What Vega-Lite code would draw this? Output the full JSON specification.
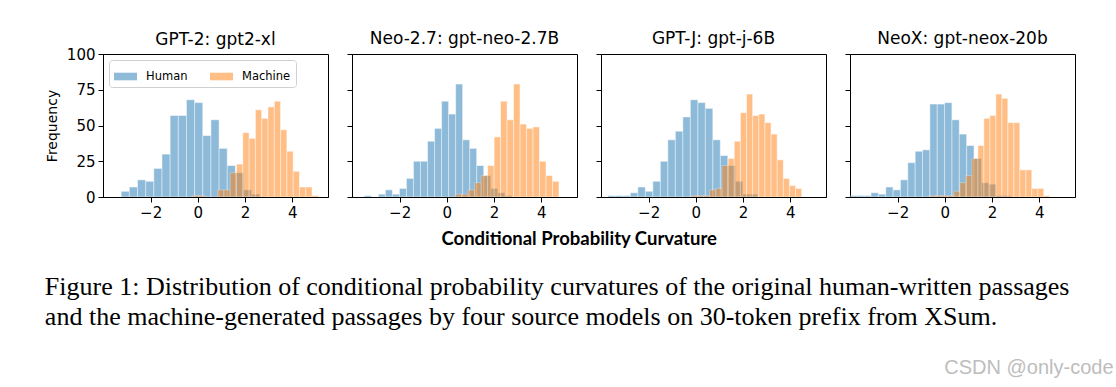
{
  "$schema": "https://vega.github.io/schema/vega-lite/v6.json",
  "background": "white",
  "padding": {"left": 44, "top": 29, "right": 3, "bottom": 3},
  "config": {
    "font": "DejaVu Sans",
    "view": {"stroke": "#000", "strokeWidth": 1},
    "axis": {"grid": false, "domainColor": "#000", "tickColor": "#000", "labelColor": "#000", "labelFont": "DejaVu Sans", "labelFontSize": 15, "tickSize": 5, "labelPadding": 3, "titleFont": "DejaVu Sans", "titleFontSize": 14, "titleFontWeight": "normal", "titleColor": "#000", "titlePadding": 7},
    "title": {"font": "DejaVu Sans", "fontSize": 17, "fontWeight": "normal", "color": "#000", "offset": 6}
  },
  "data": {"values": [
    {"p":1,"s":"Human","a":-3.25,"b":-2.904,"n":4},
    {"p":1,"s":"Human","a":-2.904,"b":-2.558,"n":7},
    {"p":1,"s":"Human","a":-2.558,"b":-2.212,"n":12},
    {"p":1,"s":"Human","a":-2.212,"b":-1.866,"n":11},
    {"p":1,"s":"Human","a":-1.866,"b":-1.52,"n":20},
    {"p":1,"s":"Human","a":-1.52,"b":-1.174,"n":30},
    {"p":1,"s":"Human","a":-1.174,"b":-0.828,"n":57},
    {"p":1,"s":"Human","a":-0.828,"b":-0.482,"n":57},
    {"p":1,"s":"Human","a":-0.482,"b":-0.136,"n":68},
    {"p":1,"s":"Human","a":-0.136,"b":0.21,"n":66},
    {"p":1,"s":"Human","a":0.21,"b":0.556,"n":43},
    {"p":1,"s":"Human","a":0.556,"b":0.902,"n":54},
    {"p":1,"s":"Human","a":0.902,"b":1.248,"n":34},
    {"p":1,"s":"Human","a":1.248,"b":1.594,"n":22},
    {"p":1,"s":"Human","a":1.594,"b":1.94,"n":17},
    {"p":1,"s":"Human","a":1.94,"b":2.286,"n":5},
    {"p":1,"s":"Human","a":2.286,"b":2.632,"n":2},
    {"p":1,"s":"Machine","a":-0.229,"b":0.038,"n":1},
    {"p":1,"s":"Machine","a":0.038,"b":0.305,"n":1},
    {"p":1,"s":"Machine","a":0.839,"b":1.106,"n":5},
    {"p":1,"s":"Machine","a":1.106,"b":1.373,"n":5},
    {"p":1,"s":"Machine","a":1.373,"b":1.64,"n":17},
    {"p":1,"s":"Machine","a":1.64,"b":1.907,"n":23},
    {"p":1,"s":"Machine","a":1.907,"b":2.174,"n":45},
    {"p":1,"s":"Machine","a":2.174,"b":2.441,"n":41},
    {"p":1,"s":"Machine","a":2.441,"b":2.708,"n":61},
    {"p":1,"s":"Machine","a":2.708,"b":2.975,"n":55},
    {"p":1,"s":"Machine","a":2.975,"b":3.242,"n":63},
    {"p":1,"s":"Machine","a":3.242,"b":3.509,"n":67},
    {"p":1,"s":"Machine","a":3.509,"b":3.776,"n":47},
    {"p":1,"s":"Machine","a":3.776,"b":4.043,"n":32},
    {"p":1,"s":"Machine","a":4.043,"b":4.31,"n":18},
    {"p":1,"s":"Machine","a":4.31,"b":4.577,"n":7},
    {"p":1,"s":"Machine","a":4.577,"b":4.844,"n":7},
    {"p":1,"s":"Machine","a":4.844,"b":5.111,"n":1},
    {"p":2,"s":"Human","a":-3.5,"b":-3.202,"n":1},
    {"p":2,"s":"Human","a":-2.904,"b":-2.606,"n":2},
    {"p":2,"s":"Human","a":-2.606,"b":-2.308,"n":5},
    {"p":2,"s":"Human","a":-2.308,"b":-2.01,"n":2},
    {"p":2,"s":"Human","a":-2.01,"b":-1.712,"n":6},
    {"p":2,"s":"Human","a":-1.712,"b":-1.414,"n":13},
    {"p":2,"s":"Human","a":-1.414,"b":-1.116,"n":25},
    {"p":2,"s":"Human","a":-1.116,"b":-0.818,"n":25},
    {"p":2,"s":"Human","a":-0.818,"b":-0.52,"n":39},
    {"p":2,"s":"Human","a":-0.52,"b":-0.222,"n":48},
    {"p":2,"s":"Human","a":-0.222,"b":0.076,"n":67},
    {"p":2,"s":"Human","a":0.076,"b":0.374,"n":58},
    {"p":2,"s":"Human","a":0.374,"b":0.672,"n":79},
    {"p":2,"s":"Human","a":0.672,"b":0.97,"n":40},
    {"p":2,"s":"Human","a":0.97,"b":1.268,"n":34},
    {"p":2,"s":"Human","a":1.268,"b":1.566,"n":22},
    {"p":2,"s":"Human","a":1.566,"b":1.864,"n":15},
    {"p":2,"s":"Human","a":1.864,"b":2.162,"n":6},
    {"p":2,"s":"Human","a":2.162,"b":2.46,"n":3},
    {"p":2,"s":"Human","a":2.46,"b":2.758,"n":1},
    {"p":2,"s":"Machine","a":0.355,"b":0.63,"n":2},
    {"p":2,"s":"Machine","a":0.63,"b":0.905,"n":2},
    {"p":2,"s":"Machine","a":0.905,"b":1.18,"n":5},
    {"p":2,"s":"Machine","a":1.18,"b":1.455,"n":10},
    {"p":2,"s":"Machine","a":1.455,"b":1.73,"n":15},
    {"p":2,"s":"Machine","a":1.73,"b":2.005,"n":22},
    {"p":2,"s":"Machine","a":2.005,"b":2.28,"n":42},
    {"p":2,"s":"Machine","a":2.28,"b":2.555,"n":67},
    {"p":2,"s":"Machine","a":2.555,"b":2.83,"n":54},
    {"p":2,"s":"Machine","a":2.83,"b":3.105,"n":79},
    {"p":2,"s":"Machine","a":3.105,"b":3.38,"n":51},
    {"p":2,"s":"Machine","a":3.38,"b":3.655,"n":48},
    {"p":2,"s":"Machine","a":3.655,"b":3.93,"n":49},
    {"p":2,"s":"Machine","a":3.93,"b":4.205,"n":25},
    {"p":2,"s":"Machine","a":4.205,"b":4.48,"n":15},
    {"p":2,"s":"Machine","a":4.48,"b":4.755,"n":11},
    {"p":3,"s":"Human","a":-3.73,"b":-3.412,"n":1},
    {"p":3,"s":"Human","a":-3.412,"b":-3.094,"n":1},
    {"p":3,"s":"Human","a":-3.094,"b":-2.776,"n":1},
    {"p":3,"s":"Human","a":-2.776,"b":-2.458,"n":3},
    {"p":3,"s":"Human","a":-2.458,"b":-2.14,"n":7},
    {"p":3,"s":"Human","a":-2.14,"b":-1.822,"n":4},
    {"p":3,"s":"Human","a":-1.822,"b":-1.504,"n":11},
    {"p":3,"s":"Human","a":-1.504,"b":-1.186,"n":25},
    {"p":3,"s":"Human","a":-1.186,"b":-0.868,"n":40},
    {"p":3,"s":"Human","a":-0.868,"b":-0.55,"n":46},
    {"p":3,"s":"Human","a":-0.55,"b":-0.232,"n":56},
    {"p":3,"s":"Human","a":-0.232,"b":0.086,"n":68},
    {"p":3,"s":"Human","a":0.086,"b":0.404,"n":66},
    {"p":3,"s":"Human","a":0.404,"b":0.722,"n":62},
    {"p":3,"s":"Human","a":0.722,"b":1.04,"n":40},
    {"p":3,"s":"Human","a":1.04,"b":1.358,"n":29},
    {"p":3,"s":"Human","a":1.358,"b":1.676,"n":22},
    {"p":3,"s":"Human","a":1.676,"b":1.994,"n":11},
    {"p":3,"s":"Human","a":1.994,"b":2.312,"n":2},
    {"p":3,"s":"Human","a":2.312,"b":2.63,"n":2},
    {"p":3,"s":"Machine","a":-0.19,"b":0.07,"n":1},
    {"p":3,"s":"Machine","a":0.07,"b":0.33,"n":1},
    {"p":3,"s":"Machine","a":0.33,"b":0.59,"n":1},
    {"p":3,"s":"Machine","a":0.59,"b":0.85,"n":5},
    {"p":3,"s":"Machine","a":0.85,"b":1.11,"n":6},
    {"p":3,"s":"Machine","a":1.11,"b":1.37,"n":22},
    {"p":3,"s":"Machine","a":1.37,"b":1.63,"n":27},
    {"p":3,"s":"Machine","a":1.63,"b":1.89,"n":39},
    {"p":3,"s":"Machine","a":1.89,"b":2.15,"n":59},
    {"p":3,"s":"Machine","a":2.15,"b":2.41,"n":72},
    {"p":3,"s":"Machine","a":2.41,"b":2.67,"n":57},
    {"p":3,"s":"Machine","a":2.67,"b":2.93,"n":58},
    {"p":3,"s":"Machine","a":2.93,"b":3.19,"n":52},
    {"p":3,"s":"Machine","a":3.19,"b":3.45,"n":44},
    {"p":3,"s":"Machine","a":3.45,"b":3.71,"n":26},
    {"p":3,"s":"Machine","a":3.71,"b":3.97,"n":13},
    {"p":3,"s":"Machine","a":3.97,"b":4.23,"n":8},
    {"p":3,"s":"Machine","a":4.23,"b":4.49,"n":6},
    {"p":4,"s":"Human","a":-4.0,"b":-3.71,"n":1},
    {"p":4,"s":"Human","a":-3.71,"b":-3.42,"n":1},
    {"p":4,"s":"Human","a":-3.42,"b":-3.13,"n":1},
    {"p":4,"s":"Human","a":-3.13,"b":-2.818,"n":3},
    {"p":4,"s":"Human","a":-2.818,"b":-2.506,"n":2},
    {"p":4,"s":"Human","a":-2.506,"b":-2.194,"n":7},
    {"p":4,"s":"Human","a":-2.194,"b":-1.882,"n":5},
    {"p":4,"s":"Human","a":-1.882,"b":-1.57,"n":12},
    {"p":4,"s":"Human","a":-1.57,"b":-1.258,"n":24},
    {"p":4,"s":"Human","a":-1.258,"b":-0.946,"n":32},
    {"p":4,"s":"Human","a":-0.946,"b":-0.634,"n":33},
    {"p":4,"s":"Human","a":-0.634,"b":-0.322,"n":65},
    {"p":4,"s":"Human","a":-0.322,"b":-0.01,"n":65},
    {"p":4,"s":"Human","a":-0.01,"b":0.302,"n":66},
    {"p":4,"s":"Human","a":0.302,"b":0.614,"n":54},
    {"p":4,"s":"Human","a":0.614,"b":0.926,"n":44},
    {"p":4,"s":"Human","a":0.926,"b":1.238,"n":36},
    {"p":4,"s":"Human","a":1.238,"b":1.55,"n":27},
    {"p":4,"s":"Human","a":1.55,"b":1.862,"n":10},
    {"p":4,"s":"Human","a":1.862,"b":2.174,"n":9},
    {"p":4,"s":"Human","a":2.174,"b":2.486,"n":1},
    {"p":4,"s":"Human","a":2.486,"b":2.798,"n":1},
    {"p":4,"s":"Machine","a":-0.63,"b":-0.376,"n":1},
    {"p":4,"s":"Machine","a":-0.376,"b":-0.122,"n":1},
    {"p":4,"s":"Machine","a":-0.122,"b":0.132,"n":1},
    {"p":4,"s":"Machine","a":0.132,"b":0.386,"n":1},
    {"p":4,"s":"Machine","a":0.386,"b":0.64,"n":4},
    {"p":4,"s":"Machine","a":0.64,"b":0.894,"n":10},
    {"p":4,"s":"Machine","a":0.894,"b":1.148,"n":15},
    {"p":4,"s":"Machine","a":1.148,"b":1.402,"n":27},
    {"p":4,"s":"Machine","a":1.402,"b":1.656,"n":36},
    {"p":4,"s":"Machine","a":1.656,"b":1.91,"n":55},
    {"p":4,"s":"Machine","a":1.91,"b":2.164,"n":57},
    {"p":4,"s":"Machine","a":2.164,"b":2.418,"n":72},
    {"p":4,"s":"Machine","a":2.418,"b":2.672,"n":69},
    {"p":4,"s":"Machine","a":2.672,"b":2.926,"n":52},
    {"p":4,"s":"Machine","a":2.926,"b":3.18,"n":52},
    {"p":4,"s":"Machine","a":3.18,"b":3.434,"n":19},
    {"p":4,"s":"Machine","a":3.434,"b":3.688,"n":19},
    {"p":4,"s":"Machine","a":3.688,"b":3.942,"n":6},
    {"p":4,"s":"Machine","a":3.942,"b":4.196,"n":6},
    {"p":4,"s":"Machine","a":4.196,"b":4.45,"n":1}
  ]},
  "title": {"text": "CSDN @only-code", "orient": "bottom", "anchor": "end", "font": "Liberation Sans", "fontSize": 20, "fontWeight": "normal", "color": "#bdbdbd", "offset": 28, "dx": 38},
  "vconcat": [
    {
      "title": {"text": ["Figure 1: Distribution of conditional probability curvatures of the original human-written passages", "and the machine-generated passages by four source models on 30-token prefix from XSum."], "orient": "bottom", "anchor": "start", "font": "Liberation Serif", "fontSize": 26, "fontWeight": "normal", "lineHeight": 30, "offset": 26, "color": "#000"},
      "vconcat": [
        {
          "title": {"text": "Conditional Probability Curvature", "orient": "bottom", "anchor": "middle", "font": "Lato", "fontSize": 18.5, "fontWeight": "bold", "offset": 9, "dx": 19},
          "spacing": 17,
          "resolve": {"scale": {"color": "independent"}},
          "hconcat": [
            {
              "width": 225, "height": 143,
              "title": {"text": "GPT-2: gpt2-xl", "frame": "group", "offset": -1.5},
              "transform": [{"filter": "datum.p == 1"}],
              "mark": {"type": "bar", "opacity": 0.5, "clip": true, "stroke": "#ffffff", "strokeWidth": 0.5},
              "encoding": {
                "x": {"field": "a", "type": "quantitative", "scale": {"domain": [-4.02, 5.52], "nice": false, "zero": false}, "axis": {"values": [-2, 0, 2, 4], "title": null}},
                "x2": {"field": "b"},
                "y": {"field": "n", "type": "quantitative", "scale": {"domain": [0, 100], "nice": false}, "axis": {"values": [0, 25, 50, 75, 100], "title": "Frequency"}},
                "y2": {"datum": 0},
                "color": {"field": "s", "type": "nominal", "scale": {"domain": ["Human", "Machine"], "range": ["#1f77b4", "#ff7f0e"]},
                  "legend": {"title": null, "orient": "top-left", "offset": 6, "direction": "horizontal", "columns": 2, "symbolType": "M-1,-0.33H1V0.33H-1Z", "symbolSize": 529, "symbolOpacity": 0.5, "symbolStrokeWidth": 0, "labelFontSize": 11.5, "labelFont": "DejaVu Sans", "labelColor": "#000", "fillColor": "#ffffff", "strokeColor": "#d0d0d0", "cornerRadius": 3, "padding": 5, "columnPadding": 22, "labelOffset": 9}}
              }
            },
            {
              "width": 225, "height": 143,
              "title": {"text": "Neo-2.7: gpt-neo-2.7B", "frame": "group"},
              "transform": [{"filter": "datum.p == 2"}],
              "mark": {"type": "bar", "opacity": 0.5, "clip": true, "stroke": "#ffffff", "strokeWidth": 0.5},
              "encoding": {
                "x": {"field": "a", "type": "quantitative", "scale": {"domain": [-4.02, 5.52], "nice": false, "zero": false}, "axis": {"values": [-2, 0, 2, 4], "title": null}},
                "x2": {"field": "b"},
                "y": {"field": "n", "type": "quantitative", "scale": {"domain": [0, 100], "nice": false}, "axis": {"values": [0, 25, 50, 75, 100], "title": null, "labels": false}},
                "y2": {"datum": 0},
                "color": {"field": "s", "type": "nominal", "scale": {"domain": ["Human", "Machine"], "range": ["#1f77b4", "#ff7f0e"]}, "legend": null}
              }
            },
            {
              "width": 225, "height": 143,
              "title": {"text": "GPT-J: gpt-j-6B", "frame": "group"},
              "transform": [{"filter": "datum.p == 3"}],
              "mark": {"type": "bar", "opacity": 0.5, "clip": true, "stroke": "#ffffff", "strokeWidth": 0.5},
              "encoding": {
                "x": {"field": "a", "type": "quantitative", "scale": {"domain": [-4.02, 5.52], "nice": false, "zero": false}, "axis": {"values": [-2, 0, 2, 4], "title": null}},
                "x2": {"field": "b"},
                "y": {"field": "n", "type": "quantitative", "scale": {"domain": [0, 100], "nice": false}, "axis": {"values": [0, 25, 50, 75, 100], "title": null, "labels": false}},
                "y2": {"datum": 0},
                "color": {"field": "s", "type": "nominal", "scale": {"domain": ["Human", "Machine"], "range": ["#1f77b4", "#ff7f0e"]}, "legend": null}
              }
            },
            {
              "width": 225, "height": 143,
              "title": {"text": "NeoX: gpt-neox-20b", "frame": "group"},
              "transform": [{"filter": "datum.p == 4"}],
              "mark": {"type": "bar", "opacity": 0.5, "clip": true, "stroke": "#ffffff", "strokeWidth": 0.5},
              "encoding": {
                "x": {"field": "a", "type": "quantitative", "scale": {"domain": [-4.02, 5.52], "nice": false, "zero": false}, "axis": {"values": [-2, 0, 2, 4], "title": null}},
                "x2": {"field": "b"},
                "y": {"field": "n", "type": "quantitative", "scale": {"domain": [0, 100], "nice": false}, "axis": {"values": [0, 25, 50, 75, 100], "title": null, "labels": false}},
                "y2": {"datum": 0},
                "color": {"field": "s", "type": "nominal", "scale": {"domain": ["Human", "Machine"], "range": ["#1f77b4", "#ff7f0e"]}, "legend": null}
              }
            }
          ]
        }
      ]
    }
  ]
}
